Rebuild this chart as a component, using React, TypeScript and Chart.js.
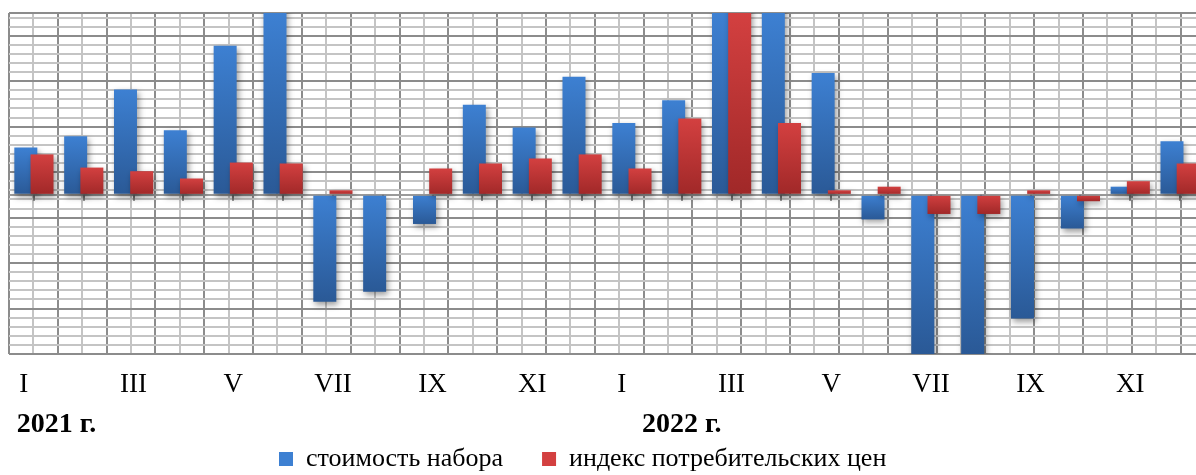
import React, { useEffect, useRef } from 'react';
import { Chart, registerables } from 'chart.js';

Chart.register(...registerables);

// ---------- data ----------
const months = ['I', 'II', 'III', 'IV', 'V', 'VI', 'VII', 'VIII', 'IX', 'X', 'XI', 'XII'];
const categories = [...months, ...months]; // 2021, 2022
const yearLabels = ['2021 г.', '2022 г.'];
const yearStartIndex = [0, 12];
const seriesNames = ['стоимость набора', 'индекс потребительских цен'];
const costValues = [
  5.2, 6.45, 11.6, 7.1, 16.4, 21, -11.75, -10.65, -3.2, 9.9, 7.4, 13.0,
  7.9, 10.4, 24, 24, 13.4, -2.7, -19, -19, -13.6, -3.7, 0.9, 5.9,
];
const cpiValues = [
  4.45, 3.0, 2.6, 1.8, 3.55, 3.45, 0.5, 0, 2.9, 3.45, 4.0, 4.45,
  2.9, 8.4, 24, 7.9, 0.5, 0.9, -2.1, -2.1, 0.5, -0.7, 1.5, 3.45,
];

// ---------- axis settings ----------
const Y_MIN = -17.5;
const Y_MAX = 20;
const yGridValues: number[] = [];
for (let v = Y_MIN; v < Y_MAX; v += 1) yGridValues.push(v);
yGridValues.push(0, Y_MAX);
yGridValues.sort((a, b) => a - b);

const xGridValues: number[] = [];
for (let v = -0.5; v <= categories.length - 0.5 + 1e-9; v += 0.5) xGridValues.push(v);

const FONT = '"Liberation Serif", "Times New Roman", serif';
const DARK = '#8c8c8c';
const LIGHT = '#c4c4c4';
const ZERO = '#9a9a9a';

const BLUE = ['#3d80d2', '#2a5996'];
const RED = ['#d34040', '#a02828'];

function gradientFill(colors: string[]) {
  return (ctx: any) => {
    if (ctx.type !== 'data') return colors[0];
    const chart = ctx.chart;
    const area = chart.chartArea;
    const y = chart.scales.y;
    if (!area || !y) return colors[0];
    const p0 = y.getPixelForValue(0);
    const p1 = y.getPixelForValue(ctx.raw);
    const top = Math.max(Math.min(p0, p1), area.top);
    const bot = Math.min(Math.max(p0, p1), area.bottom);
    if (bot - top < 1) return colors[0];
    const g = chart.ctx.createLinearGradient(0, top, 0, bot);
    g.addColorStop(0, colors[0]);
    g.addColorStop(1, colors[1]);
    return g;
  };
}

const LEGEND_X = 279;
const LEGEND_CY = 459;
const legendPlace = {
  id: 'legendPlace',
  afterLayout(chart: any) {
    const lg = chart.legend;
    if (!lg || !lg.lineWidths) return;
    const pad = lg.options.labels.padding;
    const lw = lg.lineWidths[0];
    const fs = lg.options.labels.font.size;
    lg.left = LEGEND_X - pad;
    lg.right = LEGEND_X + lw;
    const h = lg.height;
    lg.top = LEGEND_CY - pad - fs / 2;
    lg.bottom = lg.top + h;
  },
};

const yearOffsets = [7.7, 35];
const YEAR_BASELINE = 432;
const yearPlugin = {
  id: 'years',
  afterDraw(chart: any) {
    const x = chart.scales.x;
    const ctx = chart.ctx;
    const catW = (chart.chartArea.right - chart.chartArea.left) / categories.length;
    ctx.save();
    ctx.font = `bold 28px ${FONT}`;
    ctx.fillStyle = '#000';
    ctx.textAlign = 'left';
    ctx.textBaseline = 'alphabetic';
    yearLabels.forEach((t, i) => {
      const px = x.getPixelForValue(yearStartIndex[i]) - catW / 2 + yearOffsets[i];
      ctx.fillText(t, px, YEAR_BASELINE);
    });
    ctx.restore();
  },
};

const barsOrder = {
  id: 'barsOrder',
  beforeDatasetsDraw(chart: any) {
    const ctx = chart.ctx;
    const a = chart.chartArea;
    const x = chart.scales.x;
    const y = chart.scales.y;
    // small tick marks below the zero line at category centres
    const z = y.getPixelForValue(0);
    ctx.save();
    ctx.strokeStyle = '#7a7a7a';
    ctx.lineWidth = 2;
    categories.forEach((_c, i) => {
      const px = Math.round(x.getPixelForValue(i));
      ctx.beginPath();
      ctx.moveTo(px, z);
      ctx.lineTo(px, z + 6);
      ctx.stroke();
    });
    ctx.restore();

    [0, 1].forEach((i) => {
      const meta = chart.getDatasetMeta(i);
      if (!meta || meta.hidden) return;
      ctx.save();
      ctx.beginPath();
      ctx.rect(a.left, a.top, a.right - a.left, a.bottom - a.top);
      ctx.clip();
      ctx.shadowColor = 'rgba(0,0,0,0.38)';
      ctx.shadowBlur = 6;
      ctx.shadowOffsetX = 2;
      ctx.shadowOffsetY = 3;
      meta.controller.draw();
      ctx.restore();
    });
    return false;
  },
};

export default function App() {
  const ref = useRef<HTMLCanvasElement>(null);
  useEffect(() => {
    const canvas = ref.current;
    if (!canvas) return;
    const chart = new Chart(canvas, {
      type: 'bar',
      data: {
        labels: categories,
        datasets: [
          {
            label: seriesNames[0],
            data: costValues,
            backgroundColor: gradientFill(BLUE),
            borderWidth: 0,
            barPercentage: 1.42,
            categoryPercentage: 0.65,
          },
          {
            label: seriesNames[1],
            data: cpiValues,
            backgroundColor: gradientFill(RED),
            borderWidth: 0,
            barPercentage: 1.42,
            categoryPercentage: 0.65,
          },
        ],
      },
      options: {
        responsive: false,
        animation: false,
        layout: { padding: { top: 13, left: 9, right: 15, bottom: 0 } },
        scales: {
          x: {
            type: 'category',
            position: 'bottom',
            grid: { display: false, drawTicks: false },
            border: { display: false },
            ticks: {
              autoSkip: false,
              maxRotation: 0,
              minRotation: 0,
              padding: 15,
              color: '#000',
              font: { family: FONT, size: 27 },
              callback: function (this: any, _v: any, idx: number) {
                if (idx % 2 !== 0) return '';
                const l = categories[idx];
                return l === 'I' ? 'I   ' : l;
              },
            },
            afterFit: (scale: any) => {
              scale.height = 46;
            },
          },
          xg: {
            type: 'linear',
            position: 'bottom',
            min: -0.5,
            max: categories.length - 0.5,
            afterBuildTicks: (axis: any) => {
              axis.ticks = xGridValues.map((v) => ({ value: v }));
            },
            ticks: { display: false },
            border: { display: false },
            grid: {
              drawTicks: false,
              lineWidth: 2,
              color: (c: any) => {
                const v = c.tick ? c.tick.value : 0;
                return Math.abs(v - Math.floor(v) - 0.5) < 1e-6 ? DARK : LIGHT;
              },
            },
          },
          y: {
            type: 'linear',
            min: Y_MIN,
            max: Y_MAX,
            afterBuildTicks: (axis: any) => {
              axis.ticks = yGridValues.map((v) => ({ value: v }));
            },
            ticks: { display: false },
            border: { display: false },
            grid: {
              drawTicks: false,
              lineWidth: 2,
              color: (c: any) => {
                const v = c.tick ? c.tick.value : 1;
                if (Math.abs(v) < 1e-9) return ZERO;
                if (Math.abs(v - Y_MAX) < 1e-9) return DARK;
                const k = (v + 2.5) / 5;
                return Math.abs(k - Math.round(k)) < 1e-6 ? DARK : LIGHT;
              },
            },
          },
        },
        plugins: {
          title: { display: false },
          tooltip: { enabled: false },
          legend: {
            display: true,
            position: 'bottom',
            labels: {
              boxWidth: 14,
              boxHeight: 14,
              padding: 39,
              color: '#000',
              font: { family: FONT, size: 26 },
              generateLabels: (chart: any) =>
                chart.data.datasets.map((d: any, i: number) => ({
                  text: d.label,
                  fillStyle: i === 0 ? BLUE[0] : RED[0],
                  strokeStyle: 'rgba(0,0,0,0)',
                  lineWidth: 0,
                  hidden: false,
                  datasetIndex: i,
                  fontColor: '#000',
                })),
            },
          },
        },
      },
      plugins: [legendPlace, yearPlugin, barsOrder],
    } as any);
    return () => chart.destroy();
  }, []);

  return (
    <div
      style={{
        position: 'fixed',
        left: 0,
        top: 0,
        width: 1196,
        height: 475,
        overflow: 'hidden',
        background: '#fff',
      }}
    >
      <canvas ref={ref} width={1220} height={475} style={{ display: 'block' }} />
    </div>
  );
}
